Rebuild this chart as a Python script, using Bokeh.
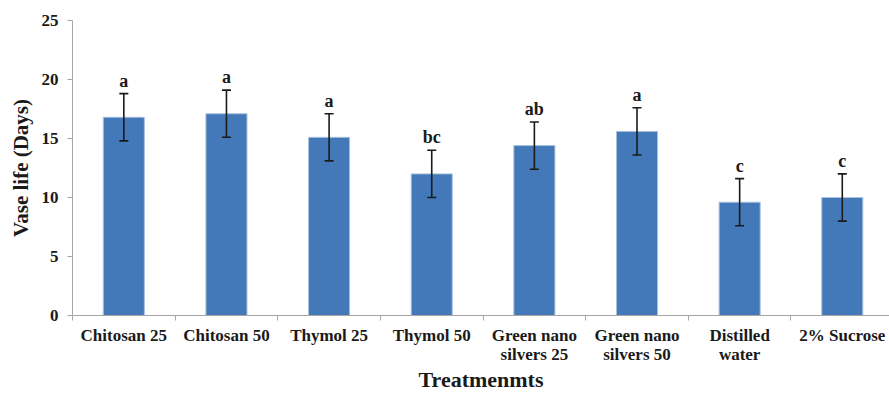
import numpy as np
from bokeh.plotting import figure
from bokeh.models import ColumnDataSource, Range1d, FixedTicker, Whisker, TeeHead
from bokeh.core.properties import value
from bokeh.embed import file_html
from bokeh.resources import INLINE

categories = ["Chitosan 25", "Chitosan 50", "Thymol 25", "Thymol 50",
              "Green nano\nsilvers 25", "Green nano\nsilvers 50",
              "Distilled\nwater", "2% Sucrose"]
vase_life = [16.8, 17.1, 15.1, 12.0, 14.4, 15.6, 9.6, 10.0]
errors = [2.0, 2.0, 2.0, 2.0, 2.0, 2.0, 2.0, 2.0]
letters = ["a", "a", "a", "bc", "ab", "a", "c", "c"]
y_ticks = [0, 5, 10, 15, 20, 25]

FONT = "Liberation Serif"
n = len(categories)
xs = np.arange(n) + 0.5
upper = [v + e for v, e in zip(vase_life, errors)]
lower = [v - e for v, e in zip(vase_life, errors)]

src = ColumnDataSource(dict(x=xs, top=vase_life, upper=upper, lower=lower, lab=letters))

p = figure(width=889, height=394, output_backend="svg", toolbar_location=None,
           x_range=Range1d(0, 7.96), y_range=Range1d(0, 25),
           min_border_top=20, min_border_left=72, min_border_right=0, min_border_bottom=79)
p.outline_line_color = None
p.grid.visible = False
p.background_fill_color = "white"
p.border_fill_color = "white"

p.vbar(x="x", top="top", width=0.4, source=src, fill_color="#4479B9",
       line_color="#A9C0DF", line_width=1)

w = Whisker(base="x", upper="upper", lower="lower", source=src,
            line_color="#1a1a1a", line_width=1.6, level="overlay",
            upper_head=TeeHead(size=9, line_color="#1a1a1a", line_width=1.6),
            lower_head=TeeHead(size=9, line_color="#1a1a1a", line_width=1.6))
p.add_layout(w)

p.text(x="x", y="upper", text="lab", source=src, y_offset=-13,
       text_align="center", text_baseline="alphabetic",
       text_font=value(FONT), text_font_style="bold", text_font_size="18px",
       text_color="#1a1a1a")

# y axis
p.yaxis.ticker = FixedTicker(ticks=y_ticks)
p.yaxis.axis_line_color = "#A6A6A6"
p.yaxis.major_tick_line_color = "#A6A6A6"
p.yaxis.major_tick_out = 5
p.yaxis.major_tick_in = 0
p.yaxis.minor_tick_line_color = None
p.yaxis.major_label_standoff = 9
p.yaxis.major_label_text_font = FONT
p.yaxis.major_label_text_font_style = "bold"
p.yaxis.major_label_text_font_size = "17px"
p.yaxis.major_label_text_color = "#1a1a1a"
p.yaxis.axis_label = "Vase life (Days)"
p.yaxis.axis_label_text_font = FONT
p.yaxis.axis_label_text_font_style = "bold"
p.yaxis.axis_label_text_font_size = "21px"
p.yaxis.axis_label_text_color = "#1a1a1a"
p.yaxis.axis_label_standoff = 6

# x axis
p.xaxis.ticker = FixedTicker(ticks=list(xs), minor_ticks=list(np.arange(n + 1)))
p.xaxis.major_label_overrides = {float(x): c for x, c in zip(xs, categories)}
p.xaxis.axis_line_color = "#A6A6A6"
p.xaxis.major_tick_out = 0
p.xaxis.major_tick_in = 0
p.xaxis.minor_tick_line_color = "#A6A6A6"
p.xaxis.minor_tick_out = 5
p.xaxis.minor_tick_in = 0
p.xaxis.major_label_standoff = 5
p.xaxis.major_label_text_font = FONT
p.xaxis.major_label_text_font_style = "bold"
p.xaxis.major_label_text_font_size = "17px"
p.xaxis.major_label_text_color = "#1a1a1a"
p.xaxis.major_label_text_line_height = 1.0
p.xaxis.axis_label = "Treatmenmts"
p.xaxis.axis_label_text_font = FONT
p.xaxis.axis_label_text_font_style = "bold"
p.xaxis.axis_label_text_font_size = "22px"
p.xaxis.axis_label_text_color = "#1a1a1a"
p.xaxis.axis_label_standoff = 0

open("out.html", "w").write(file_html(p, INLINE))
